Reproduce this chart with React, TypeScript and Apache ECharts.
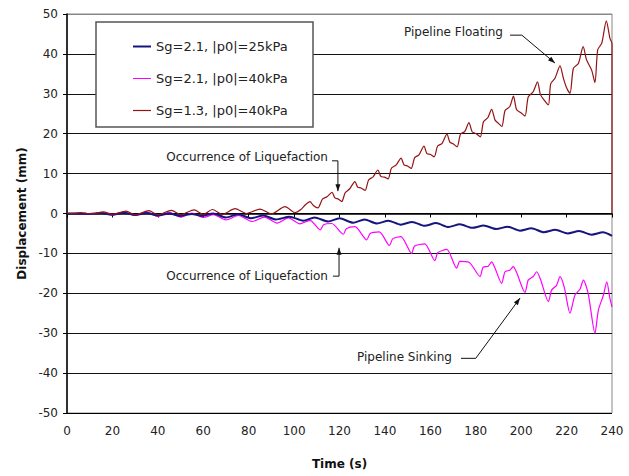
import React, { useEffect, useRef } from "react";
import * as echarts from "echarts";

const seriesNames = ["Sg=2.1, |p0|=25kPa", "Sg=2.1, |p0|=40kPa", "Sg=1.3, |p0|=40kPa"];
const seriesColors = ["#16167e", "#ff00ff", "#941414"];

// Sg=2.1, |p0|=25kPa  [time s, displacement mm]
const sg21p25: [number, number][] = [
  [0, 0], [5, 0], [10, -0.1], [15, 0.1], [20, -0.3], [25, 0.2], [30, -0.4], [35, 0.1], [40, -0.5],
  [45, 0], [50, -0.6], [55, -0.1], [59, -0.6], [64.4, 0], [70, -1.0], [75.4, -0.2], [81, -1.2],
  [86.5, -0.5], [92, -1.5], [98, -0.8], [104, -1.8], [109, -1.0], [115, -2.0], [120, -1.2],
  [126, -2.3], [131, -1.5], [136.5, -2.5], [141.5, -1.8], [147, -2.8], [152, -2.1], [157.5, -3.1],
  [162.5, -2.4], [168, -3.4], [173, -2.7], [178.5, -3.6], [183.5, -3.0], [189, -3.9], [194, -3.3],
  [199.5, -4.3], [204.5, -3.7], [210, -4.7], [215, -4.1], [220.5, -5.0], [225.5, -4.4], [231, -5.3],
  [236, -4.7], [240, -5.6],
];

// Sg=2.1, |p0|=40kPa
const sg21p40: [number, number][] = [
  [0, 0], [5, 0], [10, -0.2], [15, 0.2], [20, -0.4], [25, 0.4], [30, -0.5], [35, 0.4], [40, -0.7],
  [45, 0.3], [50, -0.9], [55, 0.1], [60, -1.0], [64.5, -0.3], [70, -1.6], [75.5, -0.5], [81.5, -2.0],
  [87, -0.9], [92.5, -2.4], [97.5, -1.1], [102.5, -2.6], [107, -1.7], [111.5, -4.1], [113, -2.8],
  [116.6, -2.5], [121.7, -5.2], [123, -3.8], [126.8, -3.3], [132, -6.6], [133.5, -5.0], [137.5, -4.6],
  [142, -8.0], [143.5, -6.3], [147, -5.8], [151.8, -10.0], [153, -8.2], [157.5, -7.6], [162, -11.8],
  [163.3, -9.8], [167.2, -9.0], [171.6, -13.7], [173, -12.0], [177, -12.2], [181.9, -15.8],
  [183.2, -13.5], [185.5, -13.2], [187, -12.1], [188.5, -13.7], [191.4, -17.5], [192.9, -14.6],
  [195, -14.2], [196.5, -13.3], [198, -14.8], [201.7, -19.8], [203.1, -16.7], [205.3, -15.8],
  [206.8, -14.6], [208.5, -16.5], [212, -22.1], [213.4, -19.2], [215.6, -18.0], [217.1, -15.8],
  [219, -18.5], [221.5, -25], [223.7, -20.4], [225.9, -19.0], [227.4, -16.7], [229.5, -20],
  [232.5, -30], [234, -24.2], [236.2, -20.5], [237.7, -17.1], [239, -21], [240, -23.4],
];

// Sg=1.3, |p0|=40kPa
const sg13p40: [number, number][] = [
  [0, 0], [3, 0.05], [6, 0.2], [9, 0], [11, -0.1], [16, 0.4], [20, -0.2], [26, 0.6], [30, -0.3],
  [36, 0.7], [40, -0.3], [46, 0.8], [50, -0.3], [56, 0.9], [60, -0.2], [64, 1.0], [68.5, -0.2],
  [74, 1.2], [79, 0.0], [85, 1.1], [90, -0.1], [96, 1.7], [100.5, 0.2], [103, 1.0], [105, 2.2],
  [107, 3.0], [108.5, 2.0], [110.5, 1.4], [112.5, 3.6], [114.5, 4.2], [116.7, 5.3], [118, 3.9],
  [119.5, 3.6], [121, 3.0], [122.5, 5.2], [124.5, 6.2], [126.8, 8.0], [128, 6.6], [129.5, 6.4],
  [131.3, 5.8], [132.8, 8.4], [134.8, 9.2], [136.9, 10.9], [138.2, 9.3], [139.8, 9.1], [141.4, 8.7],
  [142.9, 11.4], [145, 12.2], [147.1, 13.9], [148.4, 12.2], [150, 11.9], [151.6, 11.3], [153.1, 14.0],
  [155, 14.7], [157.2, 16.9], [158.5, 15.0], [160.1, 14.8], [161.7, 14.2], [163.2, 16.9], [165.2, 17.6],
  [167.3, 19.9], [168.6, 17.9], [170.2, 17.4], [171.8, 16.7], [173.3, 19.9], [175.2, 20.6], [177, 22.8],
  [178.4, 20.5], [180.2, 20.0], [182, 19.2], [183.4, 23.0], [185.3, 24.0], [187, 26.1], [188.5, 23.4],
  [190, 22.6], [191.5, 21.8], [192.9, 25.8], [195, 26.8], [196.6, 29.4], [198, 26.0], [200, 25.2],
  [201.7, 24.4], [203.1, 29.2], [205.3, 30.5], [207.2, 33.0], [208.5, 29.8], [210.3, 28.3], [212, 27.2],
  [213, 32.5], [214.9, 33.9], [217.1, 37.0], [218.6, 33.9], [220, 31.5], [221.5, 30.1], [223, 36.4],
  [225.2, 37.6], [227.3, 41.8], [228.8, 38.5], [231, 36], [232.5, 32.8], [233.7, 41], [235.5, 42.7],
  [237.5, 48.3], [239.1, 43.9], [240, 42.6], [240, 0],
];

// annotation texts, anchor (right end, middle) and leader path (data coords, last point = arrow tip)
const annoTexts = ["Pipeline Floating", "Occurrence of Liquefaction", "Occurrence of Liquefaction", "Pipeline Sinking"];
const annoAnchors: [number, number][] = [[192, 45.4], [114.9, 14.2], [114.9, -15.6], [169.5, -36]];
const annoPaths: [number, number][][] = [
  [[195.1, 44.7], [200.3, 44.7], [214.9, 37.7]],
  [[116.7, 13.2], [119.3, 13.2], [119.3, 5.6]],
  [[117.1, -15.7], [119.8, -15.7], [119.8, -8.6]],
  [[173.5, -36.3], [180, -36.3], [199.5, -21.2]],
];

const FONT = '"DejaVu Sans", Verdana, sans-serif';

export default function App() {
  const ref = useRef<HTMLDivElement>(null);
  useEffect(() => {
    if (!ref.current) return;
    const chart = echarts.init(ref.current, undefined, { renderer: "svg" });
    const datasets = [sg21p25, sg21p40, sg13p40];
    const widths = [2, 1.2, 1.2];
    const zs = [3, 2, 4];
    const icons = ["path://M0 0H18V2H0Z", "path://M0 0H18V1H0Z", "path://M0 0H18V1.2H0Z"];
    chart.setOption({
      animation: false,
      backgroundColor: "#fff",
      grid: { left: 67, right: 17, top: 14, bottom: 63, show: true, borderColor: "#888", borderWidth: 1 },
      legend: {
        data: seriesNames.map((n, i) => ({ name: n, icon: icons[i] })),
        orient: "vertical",
        left: 128,
        top: 35,
        itemGap: 19,
        itemWidth: 18,
        itemHeight: 14,
        itemStyle: { borderWidth: 0 },
        z: 30,
        textStyle: { fontFamily: FONT, fontSize: 13, color: "#222" },
      },
      xAxis: {
        type: "value",
        min: 0,
        max: 240,
        interval: 20,
        name: "Time (s)",
        nameLocation: "middle",
        nameGap: 45,
        nameTextStyle: { fontFamily: FONT, fontSize: 12, fontWeight: "bold", color: "#111" },
        axisLine: { lineStyle: { color: "#000", width: 1.5 } },
        axisTick: { length: 4, lineStyle: { color: "#000" } },
        axisLabel: { fontFamily: FONT, fontSize: 12, color: "#222", margin: 12 },
        splitLine: { show: false },
      },
      yAxis: {
        type: "value",
        min: -50,
        max: 50,
        interval: 10,
        name: "Displacement (mm)",
        nameLocation: "middle",
        nameGap: 38,
        nameTextStyle: { fontFamily: FONT, fontSize: 12, fontWeight: "bold", color: "#111" },
        axisLine: { onZero: false, lineStyle: { color: "#000", width: 1.5 } },
        axisTick: { length: 4, lineStyle: { color: "#000" } },
        axisLabel: { fontFamily: FONT, fontSize: 12, color: "#222", margin: 9 },
        splitLine: {
          show: true,
          lineStyle: {
            color: ["#000", "#111", "#111", "#111", "#111", "#000", "#111", "#111", "#111", "#111", "#888"],
            width: 1,
          },
        },
      },
      series: datasets.map((d, i) => ({
        name: seriesNames[i],
        type: "line",
        data: d,
        symbol: "none",
        smooth: 0.25,
        z: zs[i],
        lineStyle: { color: seriesColors[i], width: widths[i] },
        itemStyle: { color: seriesColors[i] },
      })),
    });

    const toPx = (p: [number, number]) => chart.convertToPixel({ gridIndex: 0 }, p) as number[];
    const graphics: any[] = [
      {
        type: "rect",
        shape: { x: 96, y: 22, width: 217, height: 105 },
        style: { fill: "#fff", stroke: "#555", lineWidth: 1.5 },
        z: 1,
      },
    ];
    annoTexts.forEach((t, i) => {
      const a = toPx(annoAnchors[i]);
      graphics.push({
        type: "text",
        x: a[0],
        y: a[1],
        z: 20,
        style: { text: t, fill: "#222", font: `12px ${FONT}`, align: "right", verticalAlign: "middle" },
      });
      const pts = annoPaths[i].map(toPx);
      graphics.push({
        type: "polyline",
        z: 20,
        shape: { points: pts },
        style: { stroke: "#111", lineWidth: 1, fill: null },
      });
      const tip = pts[pts.length - 1];
      const prev = pts[pts.length - 2];
      const dx = tip[0] - prev[0];
      const dy = tip[1] - prev[1];
      const L = Math.hypot(dx, dy) || 1;
      const ux = dx / L, uy = dy / L;
      const bx = tip[0] - ux * 7, by = tip[1] - uy * 7;
      graphics.push({
        type: "polygon",
        z: 21,
        shape: { points: [tip, [bx - uy * 2.5, by + ux * 2.5], [bx + uy * 2.5, by - ux * 2.5]] },
        style: { fill: "#111" },
      });
    });
    chart.setOption({ graphic: graphics });
    return () => chart.dispose();
  }, []);
  return <div ref={ref} style={{ position: "fixed", left: 0, top: 0, width: 629, height: 476 }} />;
}
